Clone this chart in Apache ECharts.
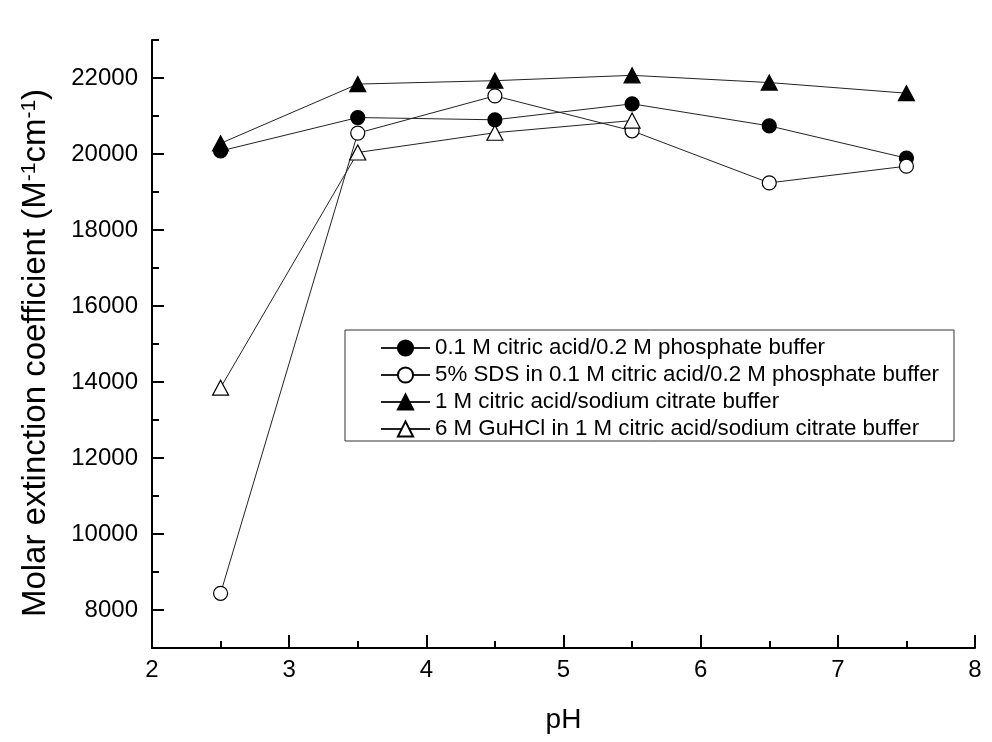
<!DOCTYPE html>
<html>
<head>
<meta charset="utf-8">
<script src="https://cdn.jsdelivr.net/npm/echarts@6/dist/echarts.min.js"></script>
<style>
html, body { margin: 0; padding: 0; background: #fff; }
#chart { width: 992px; height: 742px; }
</style>
</head>
<body>
<div id="chart"></div>
<script>
// pH values and molar extinction coefficients
var ph = [2.5, 3.5, 4.5, 5.5, 6.5, 7.5];
var citPhos = [20080, 20960, 20900, 21320, 20740, 19890];
var sdsCitPhos = [8440, 20550, 21530, 20610, 19240, 19680];
var citrate = [20280, 21840, 21930, 22070, 21880, 21600];
var guhclCitrate = [13850, 20040, 20560, 20880];

var yMajor = [8000, 10000, 12000, 14000, 16000, 18000, 20000, 22000];
var yMinor = [7000, 9000, 11000, 13000, 15000, 17000, 19000, 21000, 23000];

var names = [
	"0.1 M citric acid/0.2 M phosphate buffer",
	"5% SDS in 0.1 M citric acid/0.2 M phosphate buffer",
	"1 M citric acid/sodium citrate buffer",
	"6 M GuHCl in 1 M citric acid/sodium citrate buffer"
];

function pairs(xs, ys) {
	var out = [];
	for (var i = 0; i < ys.length; i++) {
		out.push([xs[i], ys[i]]);
	}
	return out;
}

var font = "Liberation Sans, Arial, sans-serif";

function lineSeries(name, values, symbol, size, fill) {
	return {
		name: name,
		type: "line",
		data: pairs(ph, values),
		symbol: symbol,
		symbolSize: size,
		showAllSymbol: true,
		itemStyle: { color: fill, borderColor: "#000", borderWidth: 1.2 },
		lineStyle: { color: "#222", width: 1 },
		emphasis: { disabled: true },
		animation: false
	};
}

var chart = echarts.init(document.getElementById("chart"));
chart.setOption({
	backgroundColor: "#fff",
	animation: false,
	grid: { left: 152, right: 17, top: 40, bottom: 94 },
	legend: {
		orient: "vertical",
		left: 345,
		top: 330,
		padding: [7, 15, 1, 35],
		borderColor: "#333",
		borderWidth: 1,
		itemWidth: 49,
		itemHeight: 19,
		itemGap: 5,
		textStyle: { fontFamily: font, fontSize: 22.3, color: "#000", lineHeight: 22 },
		data: names
	},
	xAxis: {
		type: "value",
		min: 2,
		max: 8,
		interval: 1,
		name: "pH",
		nameLocation: "middle",
		nameGap: 58,
		nameTextStyle: { fontFamily: font, fontSize: 28, color: "#000" },
		axisLine: { lineStyle: { color: "#000", width: 2 } },
		axisTick: { inside: true, length: 13, lineStyle: { color: "#000", width: 2 } },
		minorTick: { show: true, splitNumber: 2, length: 7, lineStyle: { color: "#000", width: 2 } },
		axisLabel: { fontFamily: font, fontSize: 24, color: "#000", margin: 10 },
		splitLine: { show: false }
	},
	yAxis: [
		{
			type: "value",
			min: 7000,
			max: 23000,
			interval: 1000,
			name: "Molar extinction coefficient (M{sup|-1}cm{sup|-1})",
			nameLocation: "middle",
			nameGap: 100,
			nameTextStyle: {
				fontFamily: font,
				fontSize: 33,
				color: "#000",
				padding: [0, 18, 0, 0],
				rich: {
					sup: { fontFamily: font, fontSize: 21, color: "#000", verticalAlign: "top", lineHeight: 21 }
				}
			},
			axisLine: { show: true, lineStyle: { color: "#000", width: 2 } },
			axisTick: { inside: true, length: 12, customValues: yMajor, lineStyle: { color: "#000", width: 2 } },
			axisLabel: {
				fontFamily: font, fontSize: 24, color: "#000", margin: 14, customValues: yMajor,
				formatter: function (v) { return String(v); }
			},
			splitLine: { show: false }
		},
		{
			type: "value",
			min: 7000,
			max: 23000,
			interval: 1000,
			position: "left",
			axisLine: { show: false },
			axisTick: { show: true, inside: true, length: 7, customValues: yMinor, lineStyle: { color: "#000", width: 2 } },
			axisLabel: { show: false },
			splitLine: { show: false }
		}
	],
	series: [
		lineSeries(names[0], citPhos, "circle", 14, "#000"),
		lineSeries(names[1], sdsCitPhos, "circle", 14, "#fff"),
		lineSeries(names[2], citrate, "triangle", [16, 15], "#000"),
		lineSeries(names[3], guhclCitrate, "triangle", [16, 15], "#fff")
	]
});
</script>
</body>
</html>
